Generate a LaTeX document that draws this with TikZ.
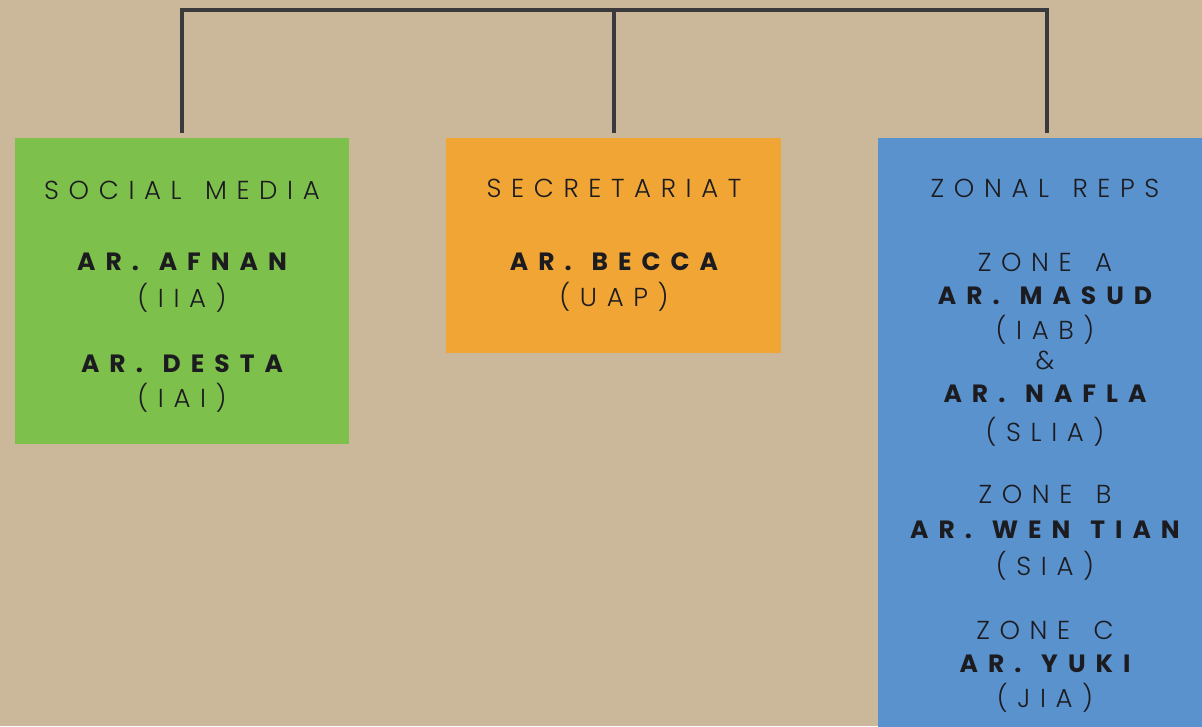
\documentclass[tikz,border=0pt]{standalone}
\usepackage{fontspec}
\usetikzlibrary{positioning}
\newfontfamily\thinfont[LetterSpace=37,WordSpace=1.4,UprightFont={* Light}]{Poppins}
\newfontfamily\namefont[LetterSpace=40,WordSpace=1.3]{Poppins}
\definecolor{paper}{RGB}{203,183,153}
\definecolor{wire}{RGB}{58,58,60}
\definecolor{leafgreen}{RGB}{125,192,75}
\definecolor{amber}{RGB}{240,165,52}
\definecolor{skyblue}{RGB}{90,146,206}
\definecolor{ink}{RGB}{28,28,32}
\tikzset{
  link/.style={draw=wire, line width=4pt},
  panel/.style={anchor=north west, inner sep=0pt, outer sep=0pt},
  head/.style={text=ink, inner sep=0pt, font=\thinfont\fontsize{26}{30}\selectfont},
  who/.style={text=ink, inner sep=0pt, font=\namefont\bfseries\fontsize{25}{30}\selectfont},
}
\begin{document}
\begin{tikzpicture}[x=1pt,y=1pt,yscale=-1,xscale=1]
\useasboundingbox (0,0) rectangle (1202,726);
\clip (0,0) rectangle (1202,726);
\fill[paper] (0,0) rectangle (1202,726);

%Shape: Rectangle [id:social]
\node[panel, fill=leafgreen, minimum width=334pt, minimum height=306pt] (social) at (15,138) {};
%Shape: Rectangle [id:secretariat]
\node[panel, fill=amber, minimum width=335pt, minimum height=215pt] (secretariat) at (446,138) {};
%Shape: Rectangle [id:zonal]
\node[panel, fill=skyblue, minimum width=338pt, minimum height=600pt] (zonal) at (878,138) {};

%Straight Lines [id:hub]
\coordinate (hub) at (613.5,10);
\draw[link, shorten <=5pt] (social.north) |- (hub);
\draw[link, shorten <=5pt] (zonal.north) |- (hub);
\draw[link, shorten <=5pt] (secretariat.north) -- (hub);

% Text Node
\node[head] (socialhead) at (182,190) {SOCIAL MEDIA};
% Text Node
\node[who] (afnan) at (182,262) {AR. AFNAN};
% Text Node
\node[head] (afnaninst) at (182,298) {(IIA)};
% Text Node
\node[who] (desta) at (182,364) {AR. DESTA};
% Text Node
\node[head] (destainst) at (182,398) {(IAI)};

% Text Node
\node[head] (sechead) at (614,188) {SECRETARIAT};
% Text Node
\node[who] (becca) at (614,262) {AR. BECCA};
% Text Node
\node[head] (beccainst) at (614,297) {(UAP)};

% Text Node
\node[head] (zonalhead) at (1045,188) {ZONAL REPS};
% Text Node
\node[head] (zonea) at (1045,262) {ZONE A};
% Text Node
\node[who] (masud) at (1045,296) {AR. MASUD};
% Text Node
\node[head] (masudinst) at (1045,330) {(IAB)};
% Text Node
\node[head] (amp) at (1045,360) {\&};
% Text Node
\node[who] (nafla) at (1045,394) {AR. NAFLA};
% Text Node
\node[head] (naflainst) at (1045,432) {(SLIA)};
% Text Node
\node[head] (zoneb) at (1045,494) {ZONE B};
% Text Node
\node[who] (wentian) at (1045,530) {AR. WEN TIAN};
% Text Node
\node[head] (wentianinst) at (1045,566) {(SIA)};
% Text Node
\node[head] (zonec) at (1045,630) {ZONE C};
% Text Node
\node[who] (yuki) at (1045,664) {AR. YUKI};
% Text Node
\node[head] (yukiinst) at (1045,698) {(JIA)};
\end{tikzpicture}
\end{document}
